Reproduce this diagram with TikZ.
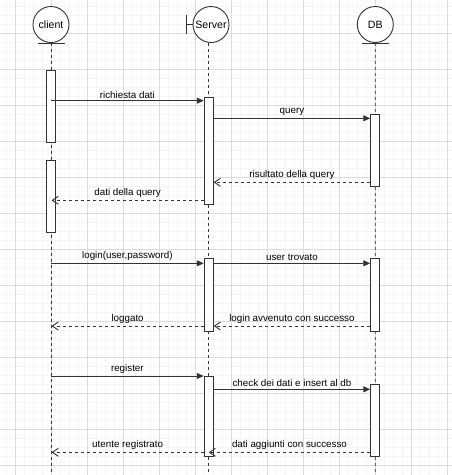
\documentclass[tikz,border=0pt]{standalone}
\usepackage{fontspec}
\setmainfont{Liberation Sans}
\usetikzlibrary{arrows.meta}
\tikzset{every picture/.style={line width=0.9pt}}

\begin{document}
\begin{tikzpicture}[x=1pt,y=-1pt,
        every node/.style={font=\fontsize{9.8}{11}\selectfont},
        obj/.style={circle,draw=black!80,fill=white,minimum size=36pt,inner sep=0pt,font=\fontsize{10.6}{12}\selectfont},
        act/.style={draw=black!80,fill=white,minimum width=9pt,inner sep=0pt,anchor=north},
        life/.style={draw=black!80,dash pattern=on 3pt off 3pt},
        call/.style={draw=black!80,-{Triangle[length=7pt,width=6pt]}},
        back/.style={draw=black!80,dash pattern=on 3pt off 3pt,-{Straight Barb[length=6pt,width=8pt]}},
        lbl/.style={above=1pt,inner sep=1pt}]
        \useasboundingbox (0,0) rectangle (452,475);
        % grid
        \foreach \k in {0,...,50} {
            \draw[gray!8,line width=0.6pt] (6.3+9*\k,0) -- (6.3+9*\k,475);
            \draw[gray!8,line width=0.6pt] (0,6.3+9*\k) -- (452,6.3+9*\k);
        }
        \foreach \k in {0,...,13} {
            \draw[gray!28,line width=0.6pt] (15.3+36*\k,0) -- (15.3+36*\k,475);
            \draw[gray!28,line width=0.6pt] (0,-2.7+36*\k) -- (452,-2.7+36*\k);
        }
        % objects
        \node[obj] (client) at (51,24.5) {client};
        \node[obj] (server) at (211,24.5) {Server};
        \node[obj] (db) at (375.3,24.5) {DB};
        \coordinate (clend) at (51,475);
        \coordinate (svend) at (208.5,475);
        \coordinate (dbend) at (375.2,475);
        \draw[life] (client) -- (clend);
        \draw[life] (server.south -| svend) -- (svend);
        \draw[life] (db) -- (dbend);
        \draw[black!80] ([xshift=-13.5pt]client.south) -- ([xshift=13.5pt]client.south);
        \draw[black!80] ([xshift=-13.5pt]db.south) -- ([xshift=13.5pt]db.south);
        \draw[black!80] ([xshift=-6.6pt]server.west) -- (server.west);
        \draw[black!80] ([xshift=-6.6pt,yshift=9.2pt]server.west) -- ([xshift=-6.6pt,yshift=-9.2pt]server.west);
        % activations
        \node[act,minimum height=71.5pt] (cl1) at (51.2,70) {};
        \node[act,minimum height=72pt] (cl2) at (51.2,159.5) {};
        \node[act,minimum height=107.6pt] (sv1) at (208.7,96.7) {};
        \node[act,minimum height=71.7pt] (db1) at (375.2,114.3) {};
        \node[act,minimum height=72.4pt] (sv2) at (208.7,258.3) {};
        \node[act,minimum height=72.4pt] (db2) at (375.2,258.3) {};
        \node[act,minimum height=80.3pt] (sv3) at (208.7,375.7) {};
        \node[act,minimum height=71.7pt] (db3) at (375.2,384.3) {};
        % message heights
        \coordinate (m1) at (51,100.7);
        \coordinate (m2) at (292,118.3);
        \coordinate (m3) at (292,182.3);
        \coordinate (m4) at (51.5,200.3);
        \coordinate (m5) at (51,263.3);
        \coordinate (m7) at (292,326);
        \coordinate (m8) at (51.5,326);
        \coordinate (m9) at (51,376);
        \coordinate (m10) at (292,389.3);
        \coordinate (m11) at (208.7,452.3);
        \coordinate (m12) at (51.5,452.3);
        \draw
            (m1) edge[call] node[lbl]{richiesta dati} (m1 -| sv1.west)
            (sv1.east |- m2) edge[call] node[lbl]{query} (db1.west |- m2)
            (db1.west |- m3) edge[back] node[lbl]{risultato della query} (sv1.east |- m3)
            (sv1.west |- m4) edge[back] node[lbl]{dati della query} (m4)
            (m5) edge[call] node[lbl]{login(user,password)} (m5 -| sv2.west)
            (sv2.east |- m5) edge[call] node[lbl]{user trovato} (db2.west |- m5)
            (db2.west |- m7) edge[back] node[lbl]{login avvenuto con successo} (sv2.east |- m7)
            (sv2.west |- m8) edge[back] node[lbl]{loggato} (m8)
            (m9) edge[call] node[lbl]{register} (m9 -| sv3.west)
            (sv3.east |- m10) edge[call] node[lbl]{check dei dati e insert al db} (db3.west |- m10)
            (db3.west |- m11) edge[back] node[lbl]{dati aggiunti con successo} (m11)
            (sv3.west |- m12) edge[back] node[lbl]{utente registrato} (m12)
            ;
    \end{tikzpicture}
\end{document}
